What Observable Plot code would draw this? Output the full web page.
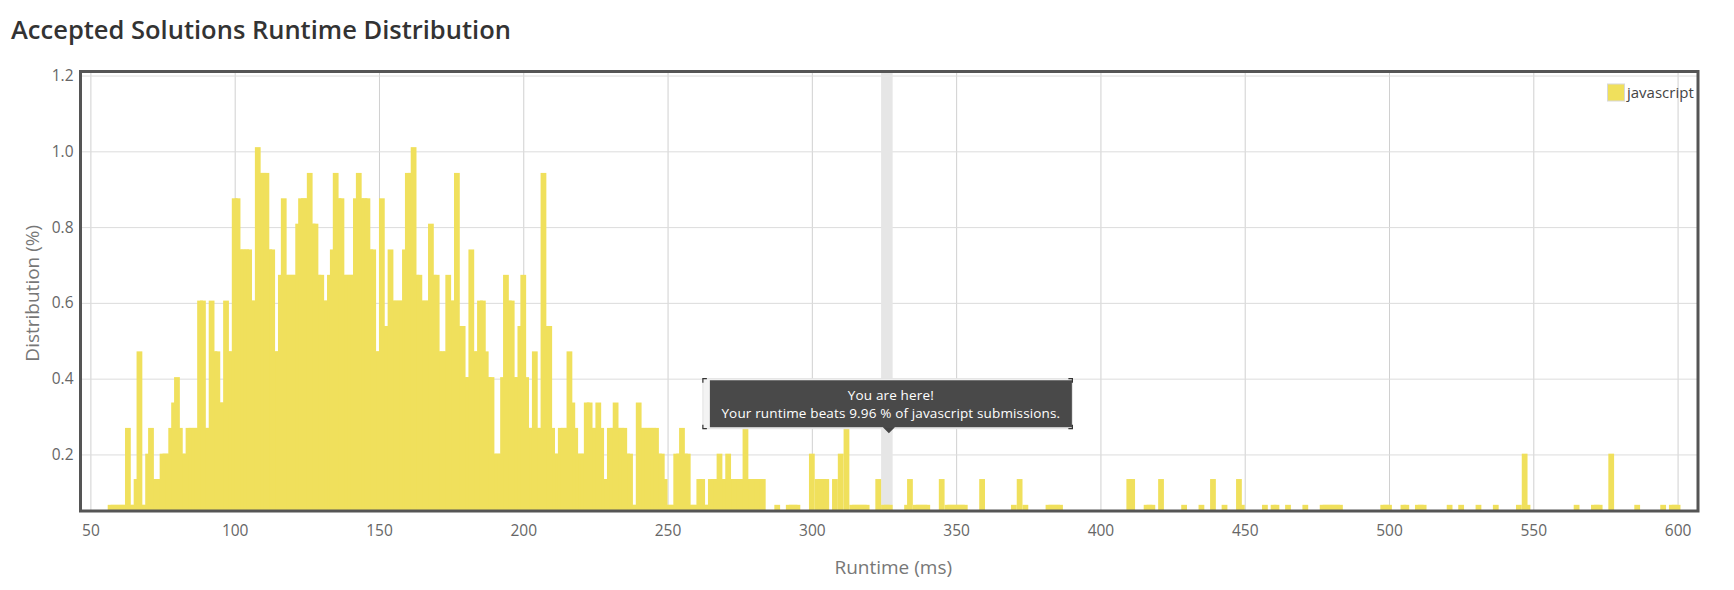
<!DOCTYPE html>
<html>
<head>
<meta charset="utf-8">
<script src="https://cdn.jsdelivr.net/npm/d3@7"></script>
<script src="https://cdn.jsdelivr.net/npm/@observablehq/plot@0.6"></script>
<style>
  html, body { margin: 0; padding: 0; background: #fff; }
  body { width: 1734px; height: 590px; overflow: hidden; font-family: "Open Sans", sans-serif; }
  #title { height: 56px; box-sizing: border-box; padding: 17px 0 0 11px; font-size: 25.5px; line-height: 1; font-weight: 600; color: #333; white-space: nowrap; }
  #chart svg { display: block; overflow: visible; }
</style>
</head>
<body>
<div id="title">Accepted Solutions Runtime Distribution</div>
<div id="chart"></div>
<script>
// ---- data (runtime in ms, distribution in %) ----
const runtimesDense = [
  57,58,59,60,61,62,63,64,65,66,
  67,68,69,70,71,72,73,74,75,76,
  77,78,79,80,81,82,83,84,85,86,
  87,88,89,90,91,92,93,94,95,96,
  97,98,99,100,101,102,103,104,105,106,
  107,108,109,110,111,112,113,114,115,116,
  117,118,119,120,121,122,123,124,125,126,
  127,128,129,130,131,132,133,134,135,136,
  137,138,139,140,141,142,143,144,145,146,
  147,148,149,150,151,152,153,154,155,156,
  157,158,159,160,161,162,163,164,165,166,
  167,168,169,170,171,172,173,174,175,176,
  177,178,179,180,181,182,183,184,185,186,
  187,188,189,190,191,192,193,194,195,196,
  197,198,199,200,201,202,203,204,205,206,
  207,208,209,210,211,212,213,214,215,216,
  217,218,219,220,221,222,223,224,225,226,
  227,228,229,230,231,232,233,234,235,236,
  237,238,239,240,241,242,243,244,245,246,
  247,248,249,250,251,252,253,254,255,256,
  257,258,259,260,261,262,263,264,265,266,
  267,268,269,270,271,272,273,274,275,276,
  277,278,279,280,281,282,283
];
const distributionDense = [
  0.067,0.067,0.067,0.067,0.067,0.067,0.27,0.067,0.067,0.135,
  0.472,0.067,0.067,0.202,0.27,0.135,0.135,0.135,0.202,0.202,
  0.202,0.27,0.337,0.404,0.27,0.202,0.202,0.27,0.27,0.27,
  0.27,0.606,0.606,0.27,0.27,0.606,0.472,0.472,0.337,0.337,
  0.606,0.472,0.472,0.876,0.876,0.741,0.741,0.741,0.741,0.606,
  0.606,1.011,0.943,0.943,0.943,0.741,0.741,0.472,0.472,0.674,
  0.876,0.674,0.674,0.674,0.674,0.809,0.876,0.876,0.876,0.943,
  0.809,0.809,0.674,0.674,0.606,0.606,0.674,0.741,0.943,0.876,
  0.876,0.674,0.674,0.674,0.674,0.876,0.943,0.876,0.876,0.876,
  0.741,0.741,0.472,0.472,0.876,0.539,0.539,0.741,0.606,0.606,
  0.606,0.606,0.741,0.943,0.943,1.011,0.674,0.674,0.606,0.606,
  0.606,0.809,0.674,0.674,0.472,0.472,0.472,0.674,0.606,0.606,
  0.943,0.539,0.539,0.404,0.404,0.741,0.472,0.472,0.606,0.606,
  0.472,0.404,0.404,0.202,0.202,0.202,0.404,0.674,0.606,0.606,
  0.404,0.404,0.539,0.674,0.404,0.27,0.27,0.472,0.27,0.27,
  0.943,0.539,0.539,0.27,0.202,0.202,0.27,0.27,0.27,0.472,
  0.337,0.27,0.202,0.202,0.202,0.337,0.337,0.27,0.27,0.337,
  0.27,0.135,0.135,0.27,0.27,0.337,0.27,0.27,0.27,0.202,
  0.202,0.067,0.067,0.337,0.27,0.27,0.27,0.27,0.27,0.27,
  0.202,0.202,0.135,0.067,0.067,0.067,0.202,0.202,0.27,0.202,
  0.202,0.067,0.067,0.067,0.135,0.135,0.067,0.067,0.135,0.135,
  0.135,0.202,0.135,0.135,0.202,0.135,0.135,0.135,0.135,0.135,
  0.337,0.135,0.135,0.135,0.135,0.135,0.135
];
const runtimesTail = [
  288,292,293,294,295,300,302,303,304,305,308,310,312,
  314,315,316,317,318,319,323,325,326,327,333,334,
  336,337,338,339,340,345,347,348,349,350,351,352,353,
  359,370,372,374,382,383,384,385,386,
  410,411,416,417,418,421,429,435,439,443,448,449,
  457,460,461,465,471,477,478,479,480,481,482,483,
  498,499,500,505,506,510,511,512,521,525,531,537,
  545,547,548,565,571,572,573,577,586,595,598,599,600
];
const distributionTail = [
  0.067,0.067,0.067,0.067,0.067,0.202,0.135,0.135,0.135,0.135,0.135,0.202,0.27,
  0.067,0.067,0.067,0.067,0.067,0.067,0.135,0.067,0.067,0.067,0.067,0.135,
  0.067,0.067,0.067,0.067,0.067,0.135,0.067,0.067,0.067,0.067,0.067,0.067,0.067,
  0.135,0.067,0.135,0.067,0.067,0.067,0.067,0.067,0.067,
  0.135,0.135,0.067,0.067,0.067,0.135,0.067,0.067,0.135,0.067,0.135,0.067,
  0.067,0.067,0.067,0.067,0.067,0.067,0.067,0.067,0.067,0.067,0.067,0.067,
  0.067,0.067,0.067,0.067,0.067,0.067,0.067,0.067,0.067,0.067,0.067,0.067,
  0.067,0.202,0.067,0.067,0.067,0.067,0.067,0.202,0.067,0.067,0.067,0.067,0.067
];
const xTicks = [50,100,150,200,250,300,350,400,450,500,550,600];
const yTicks = [0.2,0.4,0.6,0.8,1.0,1.2];
const xDomain = [46.4, 606.9];
const yDomain = [0.052, 1.212];
const seriesName = "javascript";
const yourRuntime = 326;       // ms, highlighted band
const bandHalfWidth = 2;       // ms
const tipValue = 0.256;        // % level where the tooltip points
const tipLines = ["You are here!", "Your runtime beats 9.96 % of javascript submissions."];

// ---- build ----
const yellow = "#f0e05c";
const bars = runtimesDense.map((r, i) => ({runtime: r, value: distributionDense[i]}))
  .concat(runtimesTail.map((r, i) => ({runtime: r, value: distributionTail[i]})))
  .sort((a, b) => a.value - b.value || a.runtime - b.runtime);

const chart = Plot.plot({
  width: 1734,
  height: 534,
  marginLeft: 80,
  marginRight: 36.5,
  marginTop: 15,
  marginBottom: 79.5,
  style: {fontFamily: '"Open Sans", sans-serif', fontSize: "15.5px", color: "#666", background: "#fff", overflow: "visible"},
  x: {domain: xDomain, ticks: xTicks, tickSize: 0, tickPadding: 14, tickFormat: d => String(d), label: null},
  y: {domain: yDomain, ticks: yTicks, tickSize: 0, tickPadding: 7, tickFormat: d => d.toFixed(1), label: null},
  marks: [
    Plot.ruleX(xTicks, {stroke: "#d0d0d0", strokeWidth: 1}),
    Plot.ruleY(yTicks, {stroke: "#dcdcdc", strokeWidth: 1}),
    Plot.barX([yourRuntime], {x1: d => d - bandHalfWidth, x2: d => d + bandHalfWidth, fill: "#e6e6e6"}),
    Plot.rect(bars, {x1: d => d.runtime - 1, x2: d => d.runtime + 1, y1: yDomain[0], y2: "value", fill: yellow}),
    Plot.text(["Runtime (ms)"], {frameAnchor: "bottom", dy: 56.5, dx: 4, textAnchor: "middle", lineAnchor: "middle", fontSize: 19, fill: "#777"}),
    Plot.text(["Distribution (%)"], {frameAnchor: "left", dx: -48, dy: 2, rotate: -90, textAnchor: "middle", lineAnchor: "middle", fontSize: 19, fill: "#777"}),
    Plot.frame({stroke: "#555", strokeWidth: 3})
  ]
});
document.getElementById("chart").appendChild(chart);

// ---- legend and tooltip, placed with the plot's scales ----
const sx = chart.scale("x"), sy = chart.scale("y");
const svg = d3.select(chart);
const xr = sx.range[1], yt = sy.range[1];

const leg = svg.append("g").attr("text-anchor", "start");
leg.append("rect").attr("x", xr - 90).attr("y", yt + 13).attr("width", 17).attr("height", 17)
  .attr("fill", yellow).attr("stroke", "#d8d8d8").attr("stroke-width", 1);
leg.append("text").attr("x", xr - 70.5).attr("y", yt + 27).attr("fill", "#444").attr("text-anchor", "start")
  .attr("font-size", 15).attr("font-family", '"Open Sans", sans-serif').text(seriesName);

const ax = sx.apply(yourRuntime), ay = sy.apply(tipValue);
const tw = 362, th = 47;
const bx = ax - tw / 2 + 4, by = ay - 6 - th;
const tip = svg.append("g");
tip.append("rect").attr("x", bx - 7).attr("y", by - 1.5).attr("width", tw + 7.5).attr("height", th + 3)
  .attr("fill", "#f3f3f3").attr("stroke", "#e2e2e2");
const cx0 = bx - 7, cy0 = by - 1.5, cx1 = bx + tw + 0.5, cy1 = by + th + 1.5;
tip.append("path").attr("fill", "none").attr("stroke", "#333").attr("stroke-width", 1.2)
  .attr("d", `M${cx0},${cy0 + 4}V${cy0}H${cx0 + 4} M${cx1 - 4},${cy0}H${cx1}V${cy0 + 4} M${cx0},${cy1 - 4}V${cy1}H${cx0 + 4} M${cx1 - 4},${cy1}H${cx1}V${cy1 - 4}`);
tip.append("path").attr("fill", "black").attr("fill-opacity", 0.7)
  .attr("d", `M${bx},${by}H${bx + tw}V${by + th}H${ax + 8}L${ax + 2},${ay}L${ax - 4},${by + th}H${bx}Z`);
const tipFont = {"text-anchor": "middle", "fill": "#fff", "font-size": 13.5, "letter-spacing": "0.15px", "font-family": '"Open Sans", sans-serif'};
const t1 = tip.append("text").attr("x", bx + tw / 2).attr("y", by + 19.5).text(tipLines[0]);
const t2 = tip.append("text").attr("x", bx + tw / 2).attr("y", by + 38).text(tipLines[1]);
for (const t of [t1, t2]) for (const [k, v] of Object.entries(tipFont)) t.attr(k, v);
</script>
</body>
</html>
